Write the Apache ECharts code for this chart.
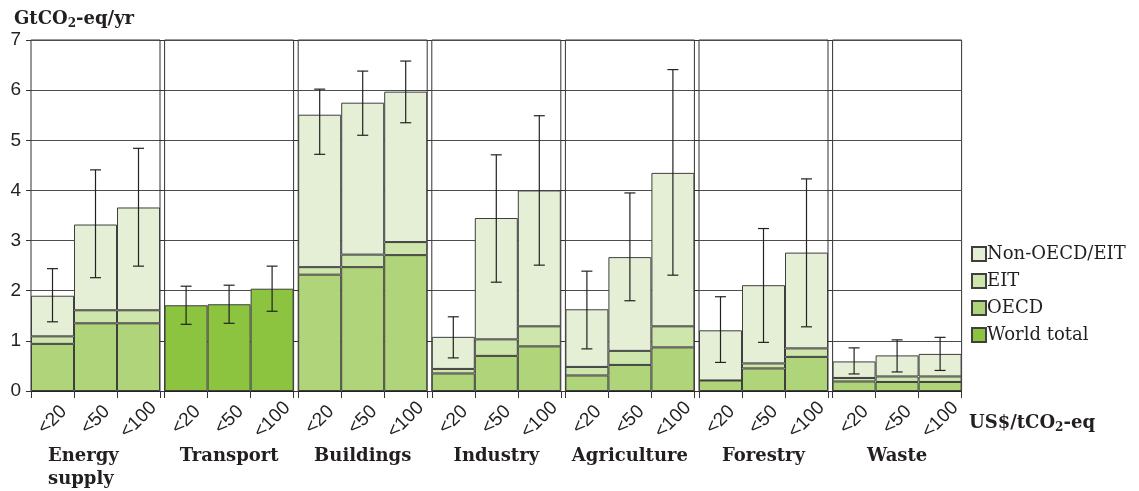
<!DOCTYPE html>
<html>
<head>
<meta charset="utf-8">
<script src="https://cdn.jsdelivr.net/npm/echarts@6/dist/echarts.min.js"></script>
<style>
  html, body { margin: 0; padding: 0; background: #fff; }
  #chart { width: 1139px; height: 491px; }
</style>
</head>
<body>
<div id="chart"></div>
<script>
// sectors and carbon price classes (US$/tCO2-eq)
const sectors = ['Energy supply', 'Transport', 'Buildings', 'Industry', 'Agriculture', 'Forestry', 'Waste'];
const prices = ['<20', '<50', '<100'];

// stacked segments, GtCO2-eq/yr (null = not split by region)
const oecd = [[0.94, 1.35, 1.35], null, [2.32, 2.47, 2.71], [0.35, 0.70, 0.89], [0.31, 0.52, 0.87], [0.21, 0.45, 0.68], [0.19, 0.18, 0.18]];
const eit = [[0.15, 0.26, 0.26], null, [0.15, 0.25, 0.26], [0.09, 0.33, 0.40], [0.17, 0.28, 0.42], [0.00, 0.10, 0.17], [0.07, 0.11, 0.11]];
const nonOecd = [[0.81, 1.71, 2.05], null, [3.04, 3.03, 3.00], [0.64, 2.42, 2.71], [1.15, 1.87, 3.06], [1.00, 1.56, 1.91], [0.33, 0.42, 0.45]];
const worldTotal = [null, [1.71, 1.73, 2.04], null, null, null, null, null];

// uncertainty ranges
const errLow = [[1.38, 2.26, 2.49], [1.33, 1.35, 1.59], [4.72, 5.10, 5.35], [0.66, 2.17, 2.51], [0.84, 1.80, 2.31], [0.57, 0.97, 1.28], [0.34, 0.38, 0.41]];
const errHigh = [[2.44, 4.41, 4.84], [2.09, 2.11, 2.49], [6.02, 6.38, 6.58], [1.48, 4.71, 5.49], [2.39, 3.95, 6.41], [1.88, 3.24, 4.23], [0.86, 1.02, 1.07]];

const yTicks = [0, 1, 2, 3, 4, 5, 6, 7];

const colors = {
  'Non-OECD/EIT': '#e4efd5',
  'EIT': '#cee5ab',
  'OECD': '#b0d47a',
  'World total': '#8cc43f'
};

// panel layout
const left0 = 31, step = 133.6, panelW = 129, panelTop = 40, panelH = 351;
const sansFont = 'Liberation Sans';
const serifFont = 'DejaVu Serif';

const grids = [], xAxes = [], yAxes = [], series = [], graphics = [];

const barSeries = (name, data, i) => ({
  name: name,
  type: 'bar',
  xAxisIndex: i,
  yAxisIndex: i,
  stack: 'stack' + i,
  barWidth: '100%',
  barCategoryGap: '0%',
  data: data,
  itemStyle: { color: colors[name], borderColor: '#3f3f3f', borderWidth: 1 },
  emphasis: { disabled: true }
});

sectors.forEach((sector, i) => {
  const left = left0 + i * step;
  grids.push({
    left: left, top: panelTop, width: panelW, height: panelH,
    show: true, borderColor: '#333', borderWidth: 1, backgroundColor: 'transparent'
  });
  xAxes.push({
    type: 'category', gridIndex: i, data: prices, boundaryGap: true,
    axisLine: { show: true, lineStyle: { color: '#222', width: 1 } },
    axisTick: { show: true, length: 7, lineStyle: { color: '#333' } },
    axisLabel: {
      rotate: 45, align: 'center', verticalAlign: 'middle', margin: 29,
      fontFamily: sansFont, fontSize: 19, color: '#231f20', interval: 0
    },
    splitLine: { show: false }
  });
  yAxes.push({
    type: 'value', gridIndex: i, min: 0, max: 7, interval: 1,
    axisLine: { show: false },
    axisTick: { show: true, length: 5, lineStyle: { color: '#333' } },
    axisLabel: {
      show: i === 0, margin: 10, fontFamily: sansFont, fontSize: 19, color: '#231f20',
      formatter: v => yTicks.includes(v) ? String(v) : ''
    },
    splitLine: { show: true, lineStyle: { color: '#4d4d4d', width: 1 } }
  });

  if (worldTotal[i]) {
    series.push(barSeries('World total', worldTotal[i], i));
  } else {
    series.push(barSeries('OECD', oecd[i], i));
    series.push(barSeries('EIT', eit[i], i));
    series.push(barSeries('Non-OECD/EIT', nonOecd[i], i));
  }

  series.push({
    type: 'custom',
    xAxisIndex: i,
    yAxisIndex: i,
    z: 5,
    silent: true,
    data: prices.map((p, k) => [k, errLow[i][k], errHigh[i][k]]),
    encode: { x: 0, y: [1, 2] },
    renderItem: (params, api) => {
      const lo = api.coord([api.value(0), api.value(1)]);
      const hi = api.coord([api.value(0), api.value(2)]);
      const cap = 5.5;
      const style = { stroke: '#222', lineWidth: 1.2 };
      return {
        type: 'group',
        children: [
          { type: 'line', shape: { x1: lo[0], y1: lo[1], x2: hi[0], y2: hi[1] }, style: style },
          { type: 'line', shape: { x1: hi[0] - cap, y1: hi[1], x2: hi[0] + cap, y2: hi[1] }, style: style },
          { type: 'line', shape: { x1: lo[0] - cap, y1: lo[1], x2: lo[0] + cap, y2: lo[1] }, style: style }
        ]
      };
    }
  });

  // sector name under each panel
  const isFirst = i === 0;
  graphics.push({
    type: 'text',
    x: isFirst ? 48 : left + panelW / 2,
    y: 445,
    silent: true,
    style: {
      text: isFirst ? 'Energy\nsupply' : sector,
      font: 'bold 18px "' + serifFont + '"',
      fill: '#231f20',
      textAlign: isFirst ? 'left' : 'center',
      textVerticalAlign: 'top',
      lineHeight: 23
    }
  });
});

const titleRich = {
  b: { fontFamily: serifFont, fontWeight: 'bold', fontSize: 18, color: '#231f20', lineHeight: 22 },
  s: { fontFamily: serifFont, fontWeight: 'bold', fontSize: 12, color: '#231f20', lineHeight: 22, padding: [9, 0, 0, 0] }
};

const option = {
  animation: false,
  backgroundColor: '#fff',
  title: [
    { text: '{b|GtCO}{s|2}{b|-eq/yr}', left: 9, top: 3, textStyle: { rich: titleRich } },
    { text: '{b|US$/tCO}{s|2}{b|-eq}', left: 964, top: 407, textStyle: { rich: titleRich } }
  ],
  legend: {
    orient: 'vertical',
    left: 966,
    top: 240,
    itemWidth: 14,
    itemHeight: 14,
    itemGap: 9,
    icon: 'rect',
    selectedMode: false,
    data: ['Non-OECD/EIT', 'EIT', 'OECD', 'World total'],
    textStyle: { fontFamily: serifFont, fontSize: 18, color: '#231f20', padding: [0, 0, 0, -4] }
  },
  grid: grids,
  xAxis: xAxes,
  yAxis: yAxes,
  series: series,
  graphic: graphics
};

const myChart = echarts.init(document.getElementById('chart'));
myChart.setOption(option);
</script>
</body>
</html>
